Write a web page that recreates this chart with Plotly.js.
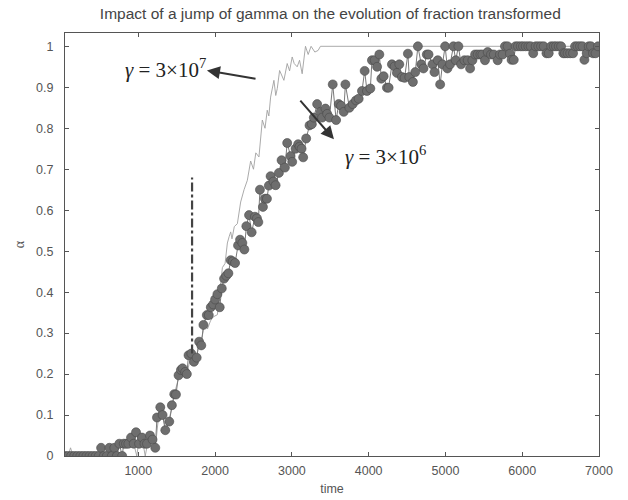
<!DOCTYPE html>
<html>
<head>
<meta charset="utf-8">
<script src="https://cdn.plot.ly/plotly-3.0.1.min.js"></script>
<style>html,body{margin:0;padding:0;background:#fff;}#chart{width:628px;height:500px;}</style>
</head>
<body>
<div id="chart"></div>
<script>
// gamma = 3e6 (marker series)
const timeSlow = [45,85,125,165,205,245,285,325,365,405,445,485,515,550,590,623,655,688,720,753,790,810,840,870,905,940,970,1010,1048,1080,1113,1152,1185,1221,1243,1286,1316,1351,1403,1437,1468,1490,1524,1555,1576,1610,1632,1654,1690,1725,1760,1792,1820,1848,1892,1918,1944,1975,2000,2030,2060,2087,2117,2145,2173,2203,2230,2260,2299,2325,2355,2381,2407,2442,2476,2519,2545,2563,2584,2623,2649,2675,2700,2723,2760,2788,2831,2866,2909,2939,2983,3004,3048,3082,3100,3126,3147,3186,3230,3260,3286,3329,3373,3394,3437,3460,3489,3532,3576,3610,3640,3675,3697,3749,3792,3835,3870,3913,3948,3978,4022,4043,4078,4110,4139,4165,4195,4238,4260,4303,4338,4368,4399,4433,4468,4511,4529,4576,4607,4641,4685,4714,4757,4780,4831,4857,4900,4931,4961,4996,5026,5060,5104,5134,5169,5204,5247,5290,5321,5351,5386,5420,5455,5481,5515,5550,5593,5630,5680,5710,5745,5775,5810,5840,5861,5890,5913,5945,5980,6010,6045,6080,6110,6143,6175,6210,6245,6280,6316,6345,6377,6410,6440,6475,6506,6535,6558,6590,6625,6662,6688,6720,6753,6785,6810,6840,6866,6895,6922,6955,6987];
const alphaSlow = [0,0,0,0,0,0,0,0,0,0,0,0,0.02,0,0,0.02,0,0.02,0,0.03,0,0.03,0.03,0.03,0.045,0.03,0.058,0.03,0.045,0.03,0.03,0.05,0.04,0.02,0.094,0.119,0.1,0.063,0.084,0.124,0.151,0.15,0.197,0.21,0.214,0.205,0.2,0.246,0.25,0.23,0.24,0.279,0.27,0.32,0.344,0.344,0.363,0.37,0.382,0.395,0.363,0.409,0.433,0.44,0.446,0.478,0.475,0.471,0.514,0.528,0.52,0.504,0.561,0.588,0.546,0.584,0.58,0.571,0.65,0.608,0.628,0.628,0.66,0.683,0.67,0.661,0.691,0.722,0.704,0.764,0.732,0.718,0.75,0.761,0.755,0.75,0.729,0.775,0.807,0.81,0.826,0.859,0.84,0.826,0.848,0.835,0.826,0.907,0.82,0.859,0.855,0.84,0.907,0.85,0.859,0.868,0.872,0.891,0.94,0.891,0.897,0.966,0.966,0.95,0.98,0.921,0.927,0.899,0.899,0.956,0.951,0.935,0.956,0.925,0.923,0.982,0.925,0.913,0.937,1.0,0.956,0.946,0.98,0.98,0.956,0.937,0.966,0.907,0.956,1.0,0.946,0.956,1.0,0.966,1.0,0.956,0.966,0.966,0.946,0.966,0.98,0.98,0.98,0.98,0.966,0.986,0.98,0.98,0.966,0.98,0.98,1.0,1.0,0.982,0.967,0.967,1.0,1.0,1.0,1.0,1.0,1.0,1.0,0.983,1.0,1.0,1.0,1.0,0.983,0.983,1.0,1.0,1.0,1.0,1.0,0.983,0.983,0.983,0.983,0.983,1.0,1.0,1.0,1.0,0.967,0.983,1.0,1.0,0.983,0.983,1.0];

// gamma = 3e7 (thin line series, jump at t = 1700)
const timeFast = [45,85,117,150,200,300,400,480,515,550,623,655,700,753,800,840,905,940,980,1010,1048,1090,1120,1152,1200,1221,1260,1300,1351,1403,1437,1468,1524,1576,1632,1680,1720,1760,1792,1830,1870,1900,1940,1980,2030,2060,2095,2130,2160,2182,2203,2220,2250,2290,2333,2377,2420,2463,2500,2530,2571,2615,2650,2679,2700,2723,2766,2790,2810,2840,2870,2896,2939,2970,3004,3030,3069,3100,3134,3177,3212,3250,3299,3342,3372,7000];
const alphaFast = [0,0,0.02,0,0,0,0,0,0.02,0,0.02,0,0.02,0.03,0.02,0.03,0.04,0.03,0,0.04,0.045,0,0.03,0.05,0.04,0.02,0.09,0.11,0.07,0.09,0.12,0.15,0.19,0.21,0.2,0.24,0.25,0.24,0.283,0.29,0.33,0.31,0.33,0.34,0.345,0.4,0.46,0.47,0.52,0.535,0.547,0.53,0.56,0.567,0.62,0.65,0.673,0.72,0.7,0.74,0.73,0.82,0.8,0.844,0.83,0.876,0.917,0.88,0.897,0.941,0.93,0.917,0.958,0.94,0.974,0.958,0.95,0.966,0.933,1.0,0.98,1.0,0.986,0.99,1.0,1.0];

const jumpTime = [1700, 1700];
const jumpMark = [0.25, 0.68];

const xTicks = [1000,2000,3000,4000,5000,6000,7000];
const yTicks = [0,0.1,0.2,0.3,0.4,0.5,0.6,0.7,0.8,0.9,1];
const yTickText = ['0','0.1','0.2','0.3','0.4','0.5','0.6','0.7','0.8','0.9','1'];

const traces = [
  {x: timeFast, y: alphaFast, mode: 'lines', line: {color: '#a0a0a0', width: 0.9}, hoverinfo: 'none'},
  {x: timeSlow, y: alphaSlow, mode: 'lines+markers', line: {color: '#7a7a7a', width: 1},
   marker: {size: 9, color: '#6e6e6e', line: {color: '#4a4a4a', width: 0.6}}, hoverinfo: 'none'},
  {x: jumpTime, y: jumpMark, mode: 'lines', line: {color: '#444444', width: 2.2, dash: 'dashdot'}, hoverinfo: 'none'}
];

const sansFont = 'Liberation Sans, Arial, sans-serif';
const serifFont = 'Liberation Serif, Times New Roman, serif';

const axisCommon = {
  showgrid: false, zeroline: false, showline: true, linecolor: '#555', linewidth: 1,
  mirror: 'ticks', ticks: 'inside', ticklen: 4, tickcolor: '#555',
  tickfont: {family: sansFont, size: 12.5, color: '#555'}
};

const layout = {
  width: 628, height: 500,
  margin: {l: 65, r: 29, t: 33, b: 44},
  paper_bgcolor: '#ffffff', plot_bgcolor: '#ffffff',
  showlegend: false,
  title: {text: 'Impact of a jump of gamma on the evolution of fraction transformed',
          font: {family: sansFont, size: 15.5, color: '#444'},
          x: 0.526, xanchor: 'center', y: 0.972, yanchor: 'middle'},
  xaxis: Object.assign({}, axisCommon, {range: [45, 7000], tickvals: xTicks, ticklabelstandoff: 3,
          title: {text: 'time', standoff: 7, font: {family: sansFont, size: 12.5, color: '#555'}}}),
  yaxis: Object.assign({}, axisCommon, {range: [0, 1.0325], tickvals: yTicks, ticktext: yTickText, ticklabelstandoff: 8,
          title: {text: 'α', standoff: 8, font: {family: serifFont, size: 14, color: '#555'}}}),
  annotations: [
    {x: 1350, y: 0.946, xref: 'x', yref: 'y', text: '<i>γ</i> = 3×10<sup>7</sup>', showarrow: false,
     font: {family: serifFont, size: 21, color: '#222'}},
    {x: 1894, y: 0.941, ax: 2546, ay: 0.920, axref: 'x', ayref: 'y', xref: 'x', yref: 'y', text: '',
     showarrow: true, arrowhead: 2, arrowsize: 1.3, arrowwidth: 2, arrowcolor: '#333'},
    {x: 4213, y: 0.734, xref: 'x', yref: 'y', text: '<i>γ</i> = 3×10<sup>6</sup>', showarrow: false,
     font: {family: serifFont, size: 21, color: '#222'}},
    {x: 3548, y: 0.773, ax: 3093, ay: 0.871, axref: 'x', ayref: 'y', xref: 'x', yref: 'y', text: '',
     showarrow: true, arrowhead: 2, arrowsize: 1.3, arrowwidth: 2, arrowcolor: '#333'}
  ]
};

Plotly.newPlot('chart', traces, layout, {displayModeBar: false, staticPlot: true});
</script>
</body>
</html>
